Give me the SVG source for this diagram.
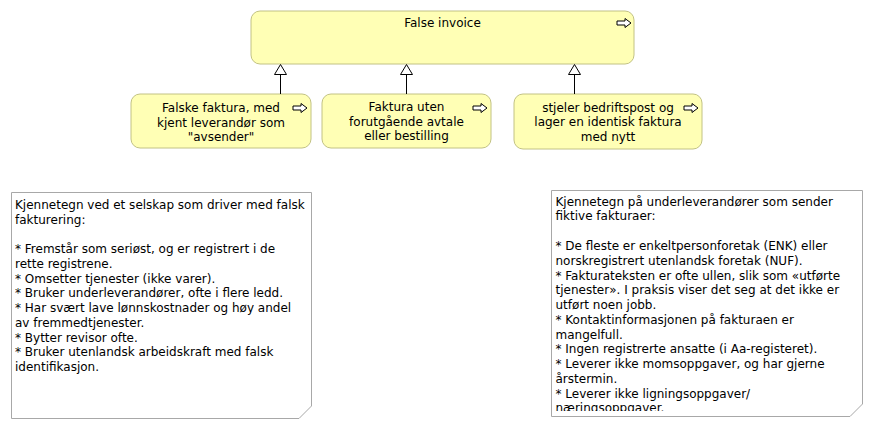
<svg xmlns="http://www.w3.org/2000/svg" xmlns:xlink="http://www.w3.org/1999/xlink" width="873" height="429" viewBox="0 0 873 429">
<style>
text{font-family:"DejaVu Sans","Liberation Sans",sans-serif;font-size:12px;fill:#000}
.box{fill:#ffffb5;stroke:#c2c284;stroke-width:1}
.note{fill:#fff;stroke:#a8a8a8;stroke-width:1}
.c{text-anchor:middle}
.conn line{stroke:#000;stroke-width:1}
.tri{fill:#fff;stroke:#000;stroke-width:1}
</style>
<defs>
<path id="ico" d="M0,2.5 H8 V0 L14,4.5 L8,9 V6.5 H0 Z" fill="#fff" stroke="#000" stroke-width="1"/>
<clipPath id="clip2"><rect x="551" y="190" width="311" height="221"/></clipPath>
</defs>
<rect width="873" height="429" fill="#fff"/>
<g id="n-false-invoice">
<rect class="box" x="251" y="11" width="383" height="53" rx="9"/>
<text class="c" x="442.5" y="27">False invoice</text>
<use xlink:href="#ico" x="617" y="18.5"/>
</g>
<g id="n-falske">
<rect class="box" x="131" y="94" width="180" height="54" rx="9"/>
<text class="c" x="221" y="112">Falske faktura, med<tspan x="221" dy="14.5">kjent leverandør som</tspan><tspan x="221" dy="14.5">"avsender"</tspan></text>
<use xlink:href="#ico" x="293" y="103.5"/>
</g>
<g id="n-uten-avtale">
<rect class="box" x="322" y="94" width="169" height="54" rx="9"/>
<text class="c" x="406.5" y="111">Faktura uten<tspan x="406.5" dy="14.5">forutgående avtale</tspan><tspan x="406.5" dy="14.5">eller bestilling</tspan></text>
<use xlink:href="#ico" x="473" y="103.5"/>
</g>
<g id="n-bedriftspost">
<rect class="box" x="514" y="94" width="188" height="55" rx="9"/>
<text class="c" x="608" y="111.5">stjeler bedriftspost og<tspan x="608" dy="14.7">lager en identisk faktura</tspan><tspan x="608" dy="14.7">med nytt</tspan></text>
<use xlink:href="#ico" x="684" y="103.5"/>
</g>
<g id="connectors" class="conn">
<line x1="280.5" y1="74.5" x2="280.5" y2="94"/>
<polygon class="tri" points="280.5,64.5 274.5,74.5 286.5,74.5"/>
<line x1="406.5" y1="74.5" x2="406.5" y2="94"/>
<polygon class="tri" points="406.5,64.5 400.5,74.5 412.5,74.5"/>
<line x1="574.5" y1="74.5" x2="574.5" y2="94"/>
<polygon class="tri" points="574.5,64.5 568.5,74.5 580.5,74.5"/>
</g>
<g id="note-selskap">
<polygon class="note" points="11.5,192.5 311.5,192.5 311.5,406 299,418.5 11.5,418.5"/>
<text x="15" y="209">Kjennetegn ved et selskap som driver med falsk<tspan x="15" dy="14.73">fakturering:</tspan><tspan x="15" dy="29.46">* Fremstår som seriøst, og er registrert i de</tspan><tspan x="15" dy="14.73">rette registrene.</tspan><tspan x="15" dy="14.73">* Omsetter tjenester (ikke varer).</tspan><tspan x="15" dy="14.73">* Bruker underleverandører, ofte i flere ledd.</tspan><tspan x="15" dy="14.73">* Har svært lave lønnskostnader og høy andel</tspan><tspan x="15" dy="14.73">av fremmedtjenester.</tspan><tspan x="15" dy="14.73">* Bytter revisor ofte.</tspan><tspan x="15" dy="14.73">* Bruker utenlandsk arbeidskraft med falsk</tspan><tspan x="15" dy="14.73">identifikasjon.</tspan></text>
</g>
<g id="note-underleverandorer">
<polygon class="note" points="551.5,190.5 862.5,190.5 862.5,404 850,416.5 551.5,416.5"/>
<text clip-path="url(#clip2)" x="555.5" y="205.7">Kjennetegn på underleverandører som sender<tspan x="555.5" dy="14.77">fiktive fakturaer:</tspan><tspan x="555.5" dy="29.54">* De fleste er enkeltpersonforetak (ENK) eller</tspan><tspan x="555.5" dy="14.77">norskregistrert utenlandsk foretak (NUF).</tspan><tspan x="555.5" dy="14.77">* Fakturateksten er ofte ullen, slik som «utførte</tspan><tspan x="555.5" dy="14.77">tjenester». I praksis viser det seg at det ikke er</tspan><tspan x="555.5" dy="14.77">utført noen jobb.</tspan><tspan x="555.5" dy="14.77">* Kontaktinformasjonen på fakturaen er</tspan><tspan x="555.5" dy="14.77">mangelfull.</tspan><tspan x="555.5" dy="14.77">* Ingen registrerte ansatte (i Aa-registeret).</tspan><tspan x="555.5" dy="14.77">* Leverer ikke momsoppgaver, og har gjerne</tspan><tspan x="555.5" dy="14.77">årstermin.</tspan><tspan x="555.5" dy="14.77">* Leverer ikke ligningsoppgaver/</tspan><tspan x="555.5" dy="14.77">næringsoppgaver.</tspan></text>
</g>
</svg>
